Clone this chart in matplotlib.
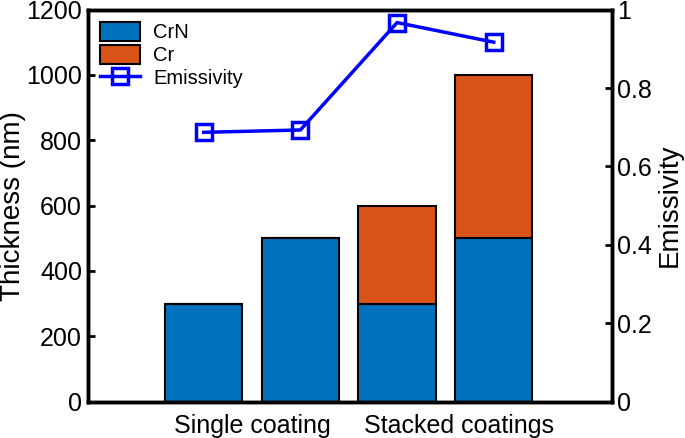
import matplotlib.pyplot as plt
import numpy as np

plt.rcParams['font.family'] = ['Liberation Sans', 'DejaVu Sans']

# data
positions = [1, 2, 3, 4]
crn = [300, 500, 300, 500]
cr = [0, 0, 300, 500]
emissivity = [0.687, 0.693, 0.967, 0.917]
group_ticks = [1.5, 3.64]
group_labels = ["Single coating", "Stacked coatings"]

fig = plt.figure(figsize=(6.85, 4.38), dpi=100)
ax = fig.add_axes([0.128, 0.083, 0.765, 0.895])

b1 = ax.bar(positions, crn, width=0.8, color="#0072BD", edgecolor="black", linewidth=1.5, label="CrN")
b2 = ax.bar(positions, cr, width=0.8, bottom=crn, color="#D95319", edgecolor="black", linewidth=1.5, label="Cr")
ax.set_xlim(-0.2, 5.22)
ax.set_ylim(0, 1200)
ax.set_yticks(range(0, 1201, 200))
ax.set_xticks(group_ticks)
ax.set_xticklabels(group_labels)
ax.set_ylabel("Thickness (nm)", fontsize=20, labelpad=0)
ax.tick_params(axis="y", direction="in", length=5, width=2, labelsize=18, right=False, pad=4)
ax.tick_params(axis="x", length=0, labelsize=18, pad=9)

ax2 = ax.twinx()
ln, = ax2.plot(positions, emissivity, color="blue", linewidth=2.5, marker="s", markersize=11,
               markerfacecolor="none", markeredgewidth=2.5, label="Emissivity")
ax2.set_ylim(0, 1)
ax2.set_yticks([0, 0.2, 0.4, 0.6, 0.8, 1])
ax2.set_yticklabels(["0", "0.2", "0.4", "0.6", "0.8", "1"])
ax2.set_ylabel("Emissivity", fontsize=20, labelpad=3)
ax2.tick_params(axis="y", direction="in", length=5, width=2, labelsize=18, pad=4)

for a in (ax, ax2):
    for s in a.spines.values():
        s.set_linewidth(2.5)

leg = ax.legend(handles=[b1, b2, ln], loc="upper left", frameon=False, fontsize=14.5,
                handlelength=2.0, handleheight=1.1, borderaxespad=0.2, labelspacing=0.12,
                handletextpad=0.65)

plt.savefig("out.png", dpi=100)
